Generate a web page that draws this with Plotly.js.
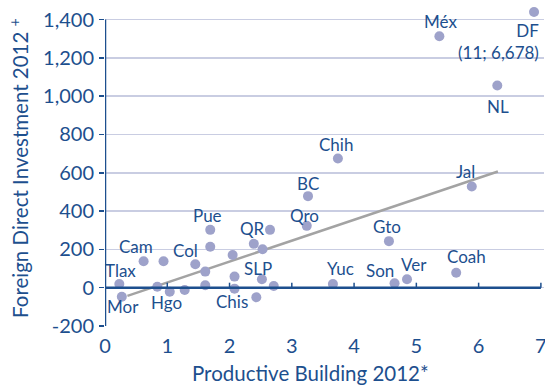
<!DOCTYPE html>
<html>
<head>
<meta charset="utf-8">
<script src="https://cdn.plot.ly/plotly-3.0.1.min.js"></script>
<style>html,body{margin:0;padding:0;background:#fff;}#chart{width:545px;height:387px;}</style>
</head>
<body>
<div id="chart"></div>
<script>
// Data
var states = ["Tlax","Mor","Cam","","","Hgo","","Col","","","Pue","","","QR","","","","Chis","SLP","","","Qro","Chih","BC","Gto","Yuc","Son","Ver","Coah","Jal","Méx","NL","DF"];
var building = [0.23,0.27,0.62,0.94,0.84,1.04,1.28,1.45,1.61,1.61,1.69,1.69,2.05,2.65,2.39,2.53,2.08,2.08,2.52,2.71,2.43,3.24,3.74,3.26,4.56,3.66,4.65,4.85,5.64,5.89,5.37,6.30,6.89];
var fdi = [19,-47,138,138,5,-21,-12,122,84,13,302,214,171,302,229,201,58,-5,44,9,-50,323,675,478,243,19,23,44,78,528,1313,1056,1440];
var trendX = [0.36, 6.31];
var trendY = [-43, 607];
var xTicks = [0,1,2,3,4,5,6,7];
var yTicks = [-200,0,200,400,600,800,1000,1200,1400];
var yTickText = ["-200","0","200","400","600","800","1,000","1,200","1,400"];
var dfNote = "DF<br>(11; 6,678)";
var xTitle = "Productive Building 2012*";
var yTitle = "Foreign Direct Investment 2012 <sup>+</sup>";

var blue = "#1d4f8e";
var dot = "#9ea2ca";
var font = "Lato, 'Open Sans', sans-serif";

var xMin = xTicks[0], xMax = xTicks[xTicks.length-1];
var yMin = yTicks[0], yMax = yTicks[yTicks.length-1];

// label offsets in pixels (dx, dy down)
var labelOffsets = {
  "Tlax":[1,-14],"Mor":[1,10],"Cam":[-8,-15],"Hgo":[-3,11],"Col":[-10,-14],
  "Pue":[-3,-14],"QR":[-18,-1],"Chis":[-3,13],"SLP":[-4,-11],"Qro":[-2,-10],
  "Chih":[-2,-14],"BC":[0,-13],"Gto":[-2,-15],"Yuc":[8,-16],"Son":[-15,-13],
  "Ver":[7,-15],"Coah":[10,-16],"Jal":[-6,-15],"Méx":[1,-15],"NL":[1,21]
};

var annotations = [];
for (var i = 0; i < states.length; i++) {
  var s = states[i];
  if (!s) continue;
  if (s === "DF") {
    annotations.push({x: building[i], y: fdi[i], text: dfNote, showarrow: false,
      xanchor: "right", align: "right", xshift: 7, yshift: -30,
      font: {family: font, size: 17, color: blue}});
    continue;
  }
  var o = labelOffsets[s] || [0,-14];
  annotations.push({x: building[i], y: fdi[i], text: s, showarrow: false,
    xshift: o[0], yshift: -o[1], font: {family: font, size: 17, color: blue}});
}
// x-axis title (slightly left of centre, as in the reference)
annotations.push({xref: "paper", yref: "paper", x: 0.468, y: 0, yshift: -47,
  xanchor: "center", yanchor: "middle", showarrow: false, text: xTitle,
  font: {family: font, size: 20.5, color: blue}});

var shapes = xTicks.slice(1).map(function(t){
  return {type:"line", xref:"x", yref:"y", ysizemode:"pixel", yanchor:0,
    x0:t, x1:t, y0:0, y1:5, line:{color:blue, width:1.5}};
});
// axis lines
shapes.push({type:"line", xref:"x", yref:"y", x0:xMin, x1:xMax, y0:0, y1:0, line:{color:blue, width:2.5}});
shapes.push({type:"line", xref:"x", yref:"y", x0:xMin, x1:xMin, y0:yMin, y1:yMax, line:{color:blue, width:2.5}});

var traces = [
  {x: trendX, y: trendY, mode: "lines", line: {color: "#a3a3a3", width: 2.5}, hoverinfo: "skip"},
  {x: building, y: fdi, mode: "markers", cliponaxis: false,
   marker: {color: dot, size: 10}, text: states}
];

var layout = {
  width: 545, height: 387,
  margin: {l: 104.5, r: 1.2, t: 10.4, b: 61},
  paper_bgcolor: "#fff", plot_bgcolor: "#fff",
  showlegend: false,
  font: {family: font, color: blue},
  xaxis: {
    range: [xMin, xMax + 0.05], tickvals: xTicks, ticktext: xTicks.map(String),
    showgrid: false, zeroline: false, showline: false, ticks: "",
    tickfont: {size: 20, color: blue}, ticklabelstandoff: 6,
    ticklabeloverflow: "allow"
  },
  yaxis: {
    range: [yMin, yMax + 50], tickvals: yTicks, ticktext: yTickText,
    showgrid: true, gridcolor: "#c9cde2", gridwidth: 1.5,
    zeroline: false, showline: false,
    ticks: "outside", ticklen: 5, tickcolor: blue, tickwidth: 1.5,
    tickfont: {size: 20, color: blue}, ticklabelstandoff: 1,
    title: {text: yTitle, font: {size: 20.5, color: blue}, standoff: 8}
  },
  annotations: annotations,
  shapes: shapes
};

Plotly.newPlot("chart", traces, layout, {displayModeBar: false, staticPlot: true});
</script>
</body>
</html>
